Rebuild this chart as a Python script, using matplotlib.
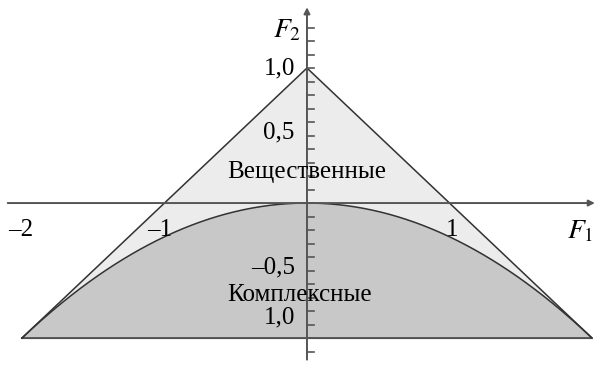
import numpy as np
import matplotlib.pyplot as plt

plt.rcParams['font.family'] = ['Liberation Serif', 'DejaVu Serif']

# -----------------------------
# Data
# -----------------------------
# stability triangle of an AR(2) process
tri_f1 = [-2, 0, 2]
tri_f2 = [-1, 1, -1]

# boundary between real and complex roots: F1^2 + 4 F2 = 0
f1 = np.linspace(-2, 2, 400)
f2_boundary = -f1 ** 2 / 4

x_labels = ["\u20132", "\u20131", "1"]
x_label_pos = [-2.01, -1.03, 1.02]
y_labels = ["1,0", "0,5", "\u20130,5", "1,0"]
y_label_pos = [1.0, 0.52, -0.48, -0.85]

light = "#ececec"
dark = "#c8c8c8"
line_col = "#333333"
axis_col = "#555555"

# -----------------------------
# Figure
# -----------------------------
fig = plt.figure(figsize=(5.95, 3.66), dpi=100)
ax = fig.add_axes([0, 0, 1, 1])
ax.set_xlim(-2.154, 2.021)
ax.set_ylim(-1.207, 1.504)
ax.axis("off")

# filled regions
ax.fill(tri_f1, tri_f2, color=light, zorder=1)
ax.fill_between(f1, -1, f2_boundary, color=dark, zorder=2)

# triangle and parabola
ax.plot(tri_f1 + [tri_f1[0]], tri_f2 + [tri_f2[0]], color=line_col, lw=1.1, zorder=4)
ax.plot(f1, f2_boundary, color=line_col, lw=1.1, zorder=4)

# axes with arrows
ax.annotate("", xy=(2.02, 0), xytext=(-2.1, 0),
            arrowprops=dict(arrowstyle="-|>", color=axis_col, lw=1.4,
                            mutation_scale=9, shrinkA=0, shrinkB=0), zorder=5)
ax.annotate("", xy=(0, 1.45), xytext=(0, -1.16),
            arrowprops=dict(arrowstyle="-|>", color=axis_col, lw=1.4,
                            mutation_scale=9, shrinkA=0, shrinkB=0), zorder=5)

# small ticks on the vertical axis
for t in np.arange(-11, 14) / 10:
    if abs(t) < 1e-9:
        continue
    ax.plot([0, 0.05], [t, t], color=axis_col, lw=1.2, zorder=5)

# tick labels
for x, lab in zip(x_label_pos, x_labels):
    ax.text(x, -0.2, lab, fontsize=18, ha="center", va="center", zorder=6)
for y, lab in zip(y_label_pos, y_labels):
    ax.text(-0.085, y, lab, fontsize=18, ha="right", va="center", zorder=6)

ax.text(1.92, -0.21, r"$F_1$", fontsize=20, ha="center", va="center",
        math_fontfamily="stix")
ax.text(-0.14, 1.28, r"$F_2$", fontsize=20, ha="center", va="center",
        math_fontfamily="stix")

ax.text(0, 0.23, "Вещественные", fontsize=18, ha="center", va="center", zorder=6)
ax.text(-0.05, -0.68, "Комплексные", fontsize=18, ha="center", va="center", zorder=6)

plt.savefig("out.png", dpi=100)
